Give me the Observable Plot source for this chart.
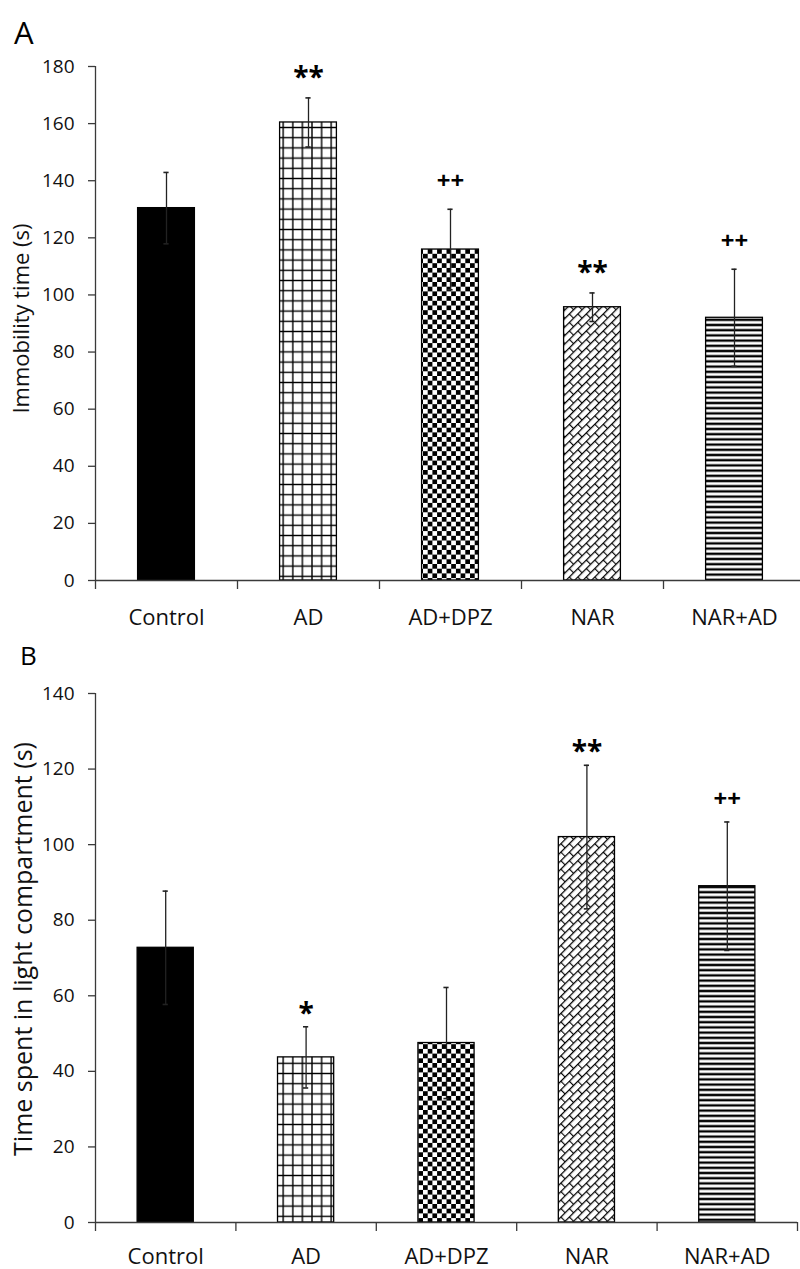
<!DOCTYPE html>
<html>
<head>
<meta charset="utf-8">
<script src="https://cdn.jsdelivr.net/npm/d3@7"></script>
<script src="https://cdn.jsdelivr.net/npm/@observablehq/plot@0.6"></script>
<style>
  html, body { margin: 0; padding: 0; background: #fff; }
  #wrap { position: relative; width: 800px; height: 1269px; overflow: hidden; background: #fff; }
  #wrap svg.plot { display: block; }
  .panel-letter { position: absolute; z-index: 5; font-family: "Open Sans", sans-serif; line-height: 1; color: #000; }
</style>
</head>
<body>
<svg width="0" height="0" style="position:absolute">
  <defs>
    <pattern id="pGrid" patternUnits="userSpaceOnUse" width="9.6" height="10.2">
      <rect width="9.6" height="10.2" fill="#fff"/>
      <path d="M0,5.1H9.6M4.8,0V10.2" stroke="#000" stroke-width="1.4"/>
    </pattern>
    <pattern id="pCheck" patternUnits="userSpaceOnUse" width="9.4" height="9.4">
      <rect width="9.4" height="9.4" fill="#fff"/>
      <rect width="4.7" height="4.7" fill="#000"/>
      <rect x="4.7" y="4.7" width="4.7" height="4.7" fill="#000"/>
    </pattern>
    <pattern id="pShingle" patternUnits="userSpaceOnUse" width="12" height="12" patternTransform="rotate(-45)">
      <rect width="12" height="12" fill="#fff"/>
      <path d="M0,0.6H12M0,6.6H12M0.6,0.6V6.6M6.6,6.6V12" stroke="#000" stroke-width="1.1"/>
    </pattern>
    <pattern id="pHLines" patternUnits="userSpaceOnUse" width="10" height="5.2">
      <rect width="10" height="5.2" fill="#fff"/>
      <rect y="1.4" width="10" height="2.4" fill="#000"/>
    </pattern>
  </defs>
</svg>
<div id="wrap">
  <div class="panel-letter" style="left:14px; top:17px; font-size:31px;">A</div>
  <div class="panel-letter" style="left:20px; top:642px; font-size:26px;">B</div>
</div>
<script>
// ---- data ----
const categories = ["Control", "AD", "AD+DPZ", "NAR", "NAR+AD"];
const barFills = ["#000000", "url(#pGrid)", "url(#pCheck)", "url(#pShingle)", "url(#pHLines)"];

// Panel A: immobility time (s)
const immobilityMean = [130.4, 160.4, 115.9, 95.7, 92.0];
const immobilitySE   = [12.5, 8.6, 14.1, 5.0, 17.0];
const immobilitySig  = ["", "**", "++", "**", "++"];
const immobilityTicks = [0, 20, 40, 60, 80, 100, 120, 140, 160, 180];

// Panel B: time spent in light compartment (s)
const lightMean = [72.7, 43.7, 47.5, 102.0, 89.0];
const lightSE   = [15.0, 8.1, 14.7, 19.0, 17.0];
const lightSig  = ["", "*", "", "**", "++"];
const lightTicks = [0, 20, 40, 60, 80, 100, 120, 140];

const boundaries = d3.range(categories.length + 1);           // group separators
const centers = categories.map((c, i) => i + 0.5);           // label positions

function panel(opts) {
  const data = categories.map((c, i) => ({
    c, i, mean: opts.mean[i], se: opts.se[i], sig: opts.sig[i], fill: barFills[i]
  }));
  const yMax = opts.ticks[opts.ticks.length - 1];
  const axisColor = "#3a3a3a";
  return Plot.plot({
    width: 800,
    height: opts.height,
    marginLeft: 95,
    marginRight: opts.marginRight,
    marginTop: opts.marginTop,
    marginBottom: opts.marginBottom,
    x: {domain: [0, categories.length], range: opts.xRange, axis: null},
    y: {domain: [0, yMax], axis: null},
    color: {type: "identity"},
    style: {fontFamily: "'Open Sans', sans-serif", color: "#000", background: "#fff", overflow: "visible"},
    marks: [
      // bars
      Plot.rectY(data, {x1: d => d.i + 0.3, x2: d => d.i + 0.7, y1: 0, y2: "mean",
        fill: "fill", stroke: "#000", strokeWidth: 1.3}),
      // error bars
      Plot.ruleX(data, {x: d => d.i + 0.5, y1: d => d.mean - d.se, y2: d => d.mean + d.se,
        stroke: "#222", strokeWidth: 1.3}),
      Plot.ruleY(data, {y: d => d.mean + d.se, x1: d => d.i + 0.5, x2: d => d.i + 0.5,
        insetLeft: -2.6, insetRight: -2.6, stroke: "#222", strokeWidth: 1.6}),
      Plot.ruleY(data, {y: d => d.mean - d.se, x1: d => d.i + 0.5, x2: d => d.i + 0.5,
        insetLeft: -2.6, insetRight: -2.6, stroke: "#222", strokeWidth: 1.6}),
      // significance marks
      Plot.text(data.filter(d => d.sig.startsWith("*")), {x: d => d.i + 0.5, y: d => d.mean + d.se,
        text: "sig", dy: opts.starDy, fontSize: 28, fontWeight: "bold", fill: "#000"}),
      Plot.text(data.filter(d => d.sig.startsWith("+")), {x: d => d.i + 0.5, y: d => d.mean + d.se,
        text: "sig", dy: opts.plusDy, fontSize: 24, fontWeight: "bold", fill: "#000"}),
      // axes
      Plot.ruleX([0], {y1: 0, y2: yMax, stroke: axisColor, strokeWidth: 1.3}),
      Plot.ruleY([0], {stroke: axisColor, strokeWidth: 1.3}),
      Plot.axisY(opts.ticks, {anchor: "left", tickSize: 7, tickPadding: 14, fontSize: 19,
        stroke: axisColor, strokeWidth: 1.3, label: null, fill: "#111"}),
      Plot.axisX(boundaries, {anchor: "bottom", tickSize: 9, tickFormat: () => "",
        stroke: axisColor, strokeWidth: 1.3, label: null}),
      Plot.axisX(centers, {anchor: "bottom", tickSize: 0, tickPadding: opts.labelPad,
        tickFormat: v => categories[Math.floor(v)], fontSize: 22, label: null, fill: "#111"}),
      // y axis title
      Plot.text([opts.label], {frameAnchor: "left", textAnchor: "middle", rotate: -90,
        dx: opts.labelDx, dy: opts.labelDy, fontSize: opts.labelSize, fill: "#111"})
    ]
  });
}

const wrap = document.getElementById("wrap");

const chartA = panel({
  mean: immobilityMean, se: immobilitySE, sig: immobilitySig, ticks: immobilityTicks,
  height: 640, marginTop: 66, marginBottom: 60, marginRight: 0, xRange: [95, 805],
  labelPad: 29, starDy: -20, plusDy: -28,
  label: "Immobility time (s)", labelDx: -74, labelDy: -5, labelSize: 22
});
const chartB = panel({
  mean: lightMean, se: lightSE, sig: lightSig, ticks: lightTicks,
  height: 629, marginTop: 53, marginBottom: 47, marginRight: 3, xRange: [95, 797],
  labelPad: 26, starDy: -13, plusDy: -23,
  label: "Time spent in light compartment (s)", labelDx: -72, labelDy: -9, labelSize: 25
});
chartA.classList.add("plot");
chartB.classList.add("plot");
wrap.appendChild(chartA);
wrap.appendChild(chartB);
</script>
</body>
</html>
